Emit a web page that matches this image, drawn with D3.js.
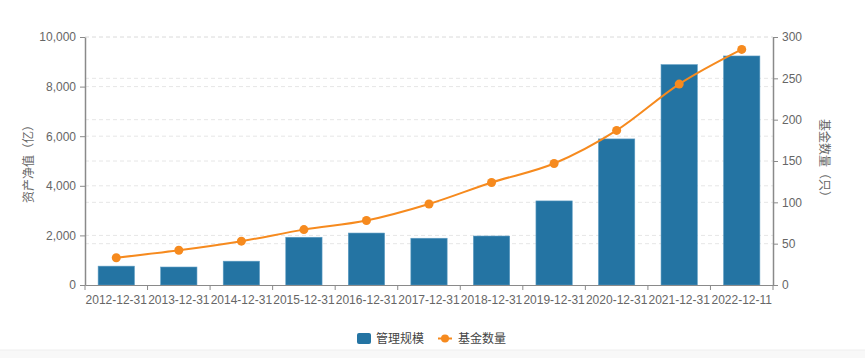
<!DOCTYPE html>
<html><head><meta charset="utf-8">
<script src="https://cdn.jsdelivr.net/npm/d3@7"></script>
<style>body{margin:0;background:#fff}svg{display:block}text{font-family:"Liberation Sans","Noto Sans CJK SC",sans-serif}</style>
</head><body><svg id="c" width="865" height="358"></svg>
<script>
const categories = ["2012-12-31","2013-12-31","2014-12-31","2015-12-31","2016-12-31","2017-12-31","2018-12-31","2019-12-31","2020-12-31","2021-12-31","2022-12-11"];
const scaleValues = [760, 725, 960, 1925, 2095, 1885, 1975, 3390, 5890, 8885, 9235];
const fundCounts = [33, 42, 53, 67, 78, 98, 124, 147, 187, 243, 285];
const leftTicks = [0, 2000, 4000, 6000, 8000, 10000];
const rightTicks = [0, 50, 100, 150, 200, 250, 300];
const seriesNames = ["管理规模", "基金数量"];
const axisTitles = ["资产净值（亿）", "基金数量（只）"];

const svg = d3.select("#c");
const L = 85, R = 773, T = 37, B = 285;
const barColor = "#2474a3", lineColor = "#f68a1e", txt = "#666", axisC = "#8a8a8a";

const xb = d3.scaleBand().domain(categories).range([L, R]);
const yL = d3.scaleLinear().domain([0, 10000]).range([B, T]);
const yR = d3.scaleLinear().domain([0, 300]).range([B, T]);

// bottom background strip
svg.append("rect").attr("x",0).attr("y",350).attr("width",865).attr("height",8).attr("fill","#f8f8f8");
svg.append("line").attr("x1",0).attr("x2",865).attr("y1",350).attr("y2",350).attr("stroke","#eeeeee");

// gridlines
const g = svg.append("g");
leftTicks.slice(1).forEach(t => g.append("line").attr("x1",L).attr("x2",R).attr("y1",yL(t)).attr("y2",yL(t))
  .attr("stroke","#e6e6e6").attr("stroke-dasharray","4,3"));
rightTicks.slice(1).forEach(t => g.append("line").attr("x1",L).attr("x2",R).attr("y1",yR(t)).attr("y2",yR(t))
  .attr("stroke","#e6e6e6").attr("stroke-dasharray","4,3"));

// bars
svg.append("g").selectAll("rect").data(scaleValues).join("rect")
  .attr("x",(d,i)=>xb(categories[i]) + xb.bandwidth()*0.21)
  .attr("width", xb.bandwidth()*0.58)
  .attr("y", d=>yL(d)).attr("height", d=>B-yL(d))
  .attr("fill", barColor).attr("stroke","#5b9bc2").attr("stroke-width",0.6);

// line
const cx = i => xb(categories[i]) + xb.bandwidth()/2;
svg.append("path").datum(fundCounts)
  .attr("d", d3.line().x((d,i)=>cx(i)).y(d=>yR(d)).curve(d3.curveMonotoneX))
  .attr("fill","none").attr("stroke",lineColor).attr("stroke-width",2);
svg.append("g").selectAll("circle").data(fundCounts).join("circle")
  .attr("cx",(d,i)=>cx(i)).attr("cy",d=>yR(d)).attr("r",4.5).attr("fill",lineColor);

// axes
function style(sel){
  sel.selectAll("path").attr("stroke",axisC).attr("stroke-width",1.5);
  sel.selectAll("line").attr("stroke",axisC);
  sel.selectAll("text").attr("fill",txt).style("font-size","12px");
}
const ax = svg.append("g").attr("transform",`translate(0,${B})`)
  .call(d3.axisBottom(xb).tickSize(0).tickSizeOuter(0));
ax.selectAll(".tick text").attr("dy","1.3em");
const bnds = categories.map(c=>xb(c)).concat([R]);
ax.selectAll(".bt").data(bnds).join("line").attr("class","bt").attr("x1",d=>d).attr("x2",d=>d).attr("y1",0).attr("y2",5);
style(ax);
ax.select(".domain").attr("stroke-width",1);

const ayl = svg.append("g").attr("transform",`translate(${L},0)`)
  .call(d3.axisLeft(yL).tickValues(leftTicks).tickFormat(d3.format(",")).tickSize(5).tickSizeOuter(0).tickPadding(4));
style(ayl);
const ayr = svg.append("g").attr("transform",`translate(${R},0)`)
  .call(d3.axisRight(yR).tickValues(rightTicks).tickSize(5).tickSizeOuter(0).tickPadding(4));
style(ayr);

// axis titles
svg.append("text").attr("transform",`translate(33,${(T+B)/2}) rotate(-90)`).attr("text-anchor","middle")
  .attr("fill",txt).style("font-size","12px").text(axisTitles[0]);
svg.append("text").attr("transform",`translate(820,${(T+B)/2}) rotate(90)`).attr("text-anchor","middle")
  .attr("fill",txt).style("font-size","12px").text(axisTitles[1]);

// legend
const lg = svg.append("g");
lg.append("rect").attr("x",357).attr("y",333).attr("width",14).attr("height",11).attr("rx",2).attr("fill",barColor);
lg.append("text").attr("x",376).attr("y",343).attr("fill","#444").style("font-size","12px").text(seriesNames[0]);
lg.append("line").attr("x1",438).attr("x2",452).attr("y1",338.5).attr("y2",338.5).attr("stroke",lineColor).attr("stroke-width",2);
lg.append("circle").attr("cx",445).attr("cy",338.5).attr("r",4).attr("fill",lineColor);
lg.append("text").attr("x",458).attr("y",343).attr("fill","#444").style("font-size","12px").text(seriesNames[1]);
</script></body></html>
